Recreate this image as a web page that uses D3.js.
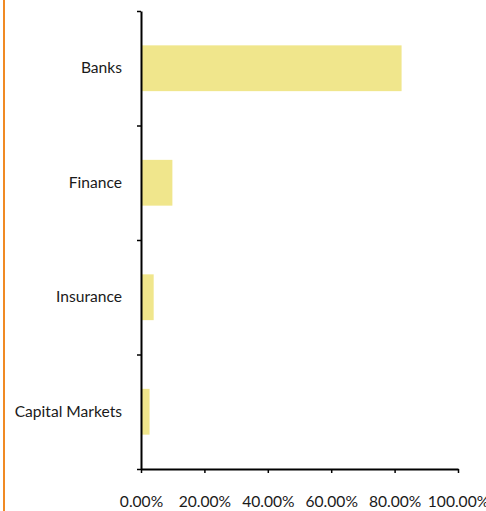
<!DOCTYPE html>
<html>
<head>
<meta charset="utf-8">
<script src="https://cdn.jsdelivr.net/npm/d3@7"></script>
<style>
  html, body { margin: 0; padding: 0; background: #fff; }
  svg { display: block; }
  .lbl text { font-family: Lato, "Open Sans", sans-serif; font-size: 15.6px; fill: #1a1a1a; }
</style>
</head>
<body>
<script>
// Share of sector by industry group
const categories = ["Banks", "Finance", "Insurance", "Capital Markets"];
const shares = [0.822, 0.099, 0.040, 0.027];
const xTicks = [0, 0.2, 0.4, 0.6, 0.8, 1.0];

const W = 486, H = 511;
const margin = { top: 11, right: 28, bottom: 42, left: 141 };

const svg = d3.select("body").append("svg")
  .attr("width", W).attr("height", H);

// orange rule down the left edge
svg.append("line")
  .attr("x1", 4).attr("x2", 4).attr("y1", 0).attr("y2", H)
  .attr("stroke", "#F08A24").attr("stroke-width", 2);

const x = d3.scaleLinear().domain([0, 1]).range([margin.left, W - margin.right]);
const y = d3.scaleBand().domain(categories)
  .range([margin.top, H - margin.bottom])
  .paddingInner(0.6).paddingOuter(0.3);

// bars
svg.append("g").selectAll("rect")
  .data(categories)
  .join("rect")
  .attr("x", x(0))
  .attr("y", d => y(d))
  .attr("width", (d, i) => x(shares[i]) - x(0))
  .attr("height", y.bandwidth())
  .attr("fill", "#F0E68C");

// category boundary ticks on the vertical axis
const yEdge = d3.scaleLinear().domain([0, categories.length]).range([margin.top, H - margin.bottom]);
const yAxis = svg.append("g")
  .attr("transform", `translate(${x(0)},0)`)
  .call(d3.axisLeft(yEdge).tickValues(d3.range(categories.length + 1))
    .tickFormat("").tickSize(4).tickSizeOuter(0));
yAxis.select(".domain").attr("stroke", "#000").attr("stroke-width", 2);
yAxis.selectAll(".tick line").attr("stroke", "#000").attr("stroke-width", 1.5);

// category labels
const yLab = svg.append("g").attr("class", "lbl")
  .attr("transform", `translate(${x(0)},0)`)
  .call(d3.axisLeft(y).tickSize(0).tickPadding(19));
yLab.select(".domain").remove();

// horizontal axis
const xAxis = svg.append("g").attr("class", "lbl")
  .attr("transform", `translate(0,${H - margin.bottom})`)
  .call(d3.axisBottom(x).tickValues(xTicks).tickFormat(d3.format(".2%"))
    .tickSize(4).tickSizeOuter(0).tickPadding(23));
xAxis.select(".domain").attr("stroke", "#000").attr("stroke-width", 2);
xAxis.selectAll(".tick line").attr("stroke", "#000").attr("stroke-width", 1.5);
</script>
</body>
</html>
